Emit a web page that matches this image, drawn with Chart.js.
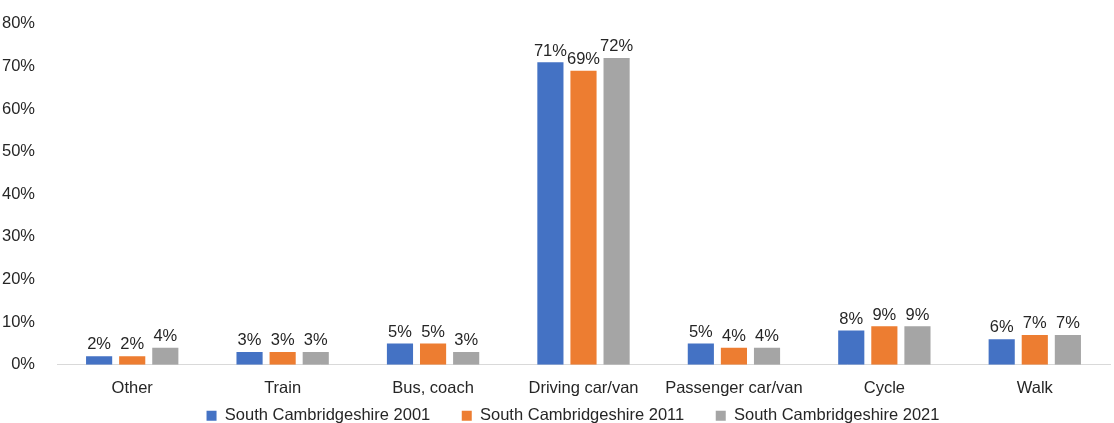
<!DOCTYPE html>
<html><head><meta charset="utf-8">
<script src="https://cdn.jsdelivr.net/npm/chart.js@4/dist/chart.umd.min.js"></script>
<style>html,body{margin:0;padding:0;background:#fff}#w{width:1114px;height:423px}</style>
</head><body><div id="w"><canvas id="c" width="1114" height="423"></canvas></div>
<script>
const categories = ["Other","Train","Bus, coach","Driving car/van","Passenger car/van","Cycle","Walk"];
const s2001 = [2,3,5,71,5,8,6];
const s2011 = [2,3,5,69,4,9,7];
const s2021 = [4,3,3,72,4,9,7];
const seriesNames = ["South Cambridgeshire 2001","South Cambridgeshire 2011","South Cambridgeshire 2021"];
const yTicks = [0,10,20,30,40,50,60,70,80];

const FONT = "'Liberation Sans', Arial, sans-serif";
const FS = 16.5;
const labelPlugin = {
  id:'lbl',
  afterLayout(chart){
    if(chart.legend){ chart.legend.left += 18; chart.legend.right += 18; }
  },
  afterDatasetsDraw(chart){
    const ctx = chart.ctx;
    ctx.save();
    ctx.font = FS + "px " + FONT;
    ctx.fillStyle = "#262626";
    ctx.textAlign = "center";
    ctx.textBaseline = "bottom";
    chart.data.datasets.forEach((ds,i)=>{
      chart.getDatasetMeta(i).data.forEach((bar,j)=>{
        ctx.fillText(ds.data[j]+"%", bar.x, bar.y-3);
      });
    });
    ctx.restore();
  }
};
Chart.defaults.font.family = FONT;
new Chart(document.getElementById('c'),{
  type:'bar',
  data:{labels:categories,datasets:[
    {label:seriesNames[0],data:s2001,backgroundColor:'#4472C4'},
    {label:seriesNames[1],data:s2011,backgroundColor:'#ED7D31'},
    {label:seriesNames[2],data:s2021,backgroundColor:'#A5A5A5'}
  ]},
  options:{
    responsive:false,animation:false,
    layout:{padding:{top:7,right:4,left:0,bottom:-11}},
    datasets:{bar:{categoryPercentage:0.66,barPercentage:0.79}},
    plugins:{
      legend:{position:'bottom',labels:{boxWidth:10,boxHeight:10,padding:4,color:'#262626',font:{size:FS},
        generateLabels(chart){
          const items = Chart.defaults.plugins.legend.labels.generateLabels(chart);
          items.forEach((it,i)=>{ if(i<items.length-1) it.text = it.text + "      "; it.lineWidth=0; });
          return items;
        }}},
      tooltip:{enabled:false}
    },
    scales:{
      x:{grid:{display:false,drawTicks:false},border:{color:'#d9d9d9'},ticks:{color:'#262626',font:{size:FS},padding:14},
         afterFit(a){a.height = a.height - 9;}},
      y:{min:0,max:80,afterBuildTicks(a){a.ticks=yTicks.map(v=>({value:v}));},
         afterFit(a){a.width=57;},
         grid:{display:false},border:{display:false},
         ticks:{color:'#262626',font:{size:FS},padding:14,callback:v=>v+"%"}}
    }
  },
  plugins:[labelPlugin]
});
</script></body></html>
